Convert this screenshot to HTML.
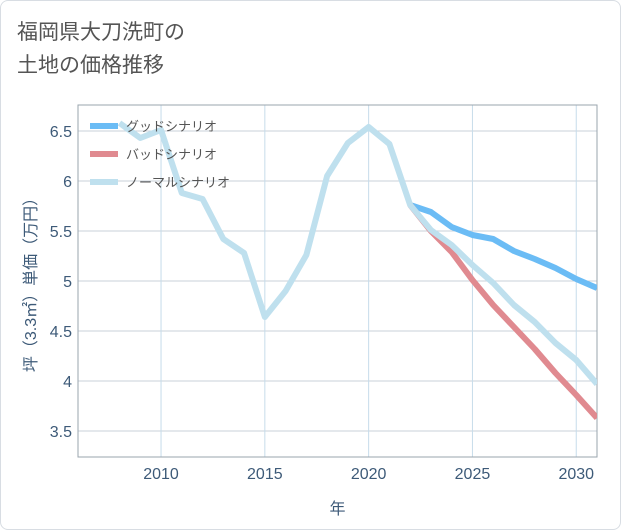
<!DOCTYPE html>
<html><head><meta charset="utf-8"><style>
body{margin:0;background:#fff;font-family:"Liberation Sans","Noto Sans CJK JP",sans-serif;}
#card{position:absolute;left:0;top:0;width:619px;height:528px;border:1px solid #d8dde3;border-radius:8px;background:#fff;}
#title{position:absolute;left:17px;top:16px;font-size:21px;line-height:33px;color:#555;}
</style></head><body>
<div id="card"></div>
<div id="title">福岡県大刀洗町の<br>土地の価格推移</div>
<svg id="chart" width="621" height="530" style="position:absolute;left:0;top:0"></svg>
<script>
const years=[2008,2009,2010,2011,2012,2013,2014,2015,2016,2017,2018,2019,2020,2021,2022,2023,2024,2025,2026,2027,2028,2029,2030,2031];
const normal=[6.58,6.43,6.51,5.88,5.82,5.42,5.28,4.64,4.90,5.26,6.05,6.38,6.54,6.37,5.76,5.51,5.36,5.16,4.98,4.76,4.59,4.38,4.21,3.97];
const goodYears=[2022,2023,2024,2025,2026,2027,2028,2029,2030,2031];
const good=[5.76,5.69,5.54,5.46,5.42,5.30,5.22,5.13,5.02,4.93];
const bad=[5.76,5.50,5.29,5.01,4.76,4.54,4.32,4.08,3.86,3.63];
const xTicks=[2010,2015,2020,2025,2030];
const yTicks=[3.5,4,4.5,5,5.5,6,6.5];
const L=78,R=597,T=105,B=457,X0=2006,X1=2031,Y0=3.24,Y1=6.76;
const xs=v=>L+(v-X0)/(X1-X0)*(R-L);
const ys=v=>B-(v-Y0)/(Y1-Y0)*(B-T);
const svg=document.getElementById('chart');const NS='http://www.w3.org/2000/svg';
function mk(t,a){const e=document.createElementNS(NS,t);for(const k in a)e.setAttribute(k,a[k]);svg.appendChild(e);return e;}
const clip=mk('clipPath',{id:'c'});const cr=document.createElementNS(NS,'rect');cr.setAttribute('x',L);cr.setAttribute('y',T);cr.setAttribute('width',R-L);cr.setAttribute('height',B-T);clip.appendChild(cr);
for(const v of yTicks){const g=mk('line',{x1:L,x2:R,y1:ys(v),y2:ys(v),stroke:'#c8d0da','stroke-width':1});


const t=mk('text',{x:L-6,y:ys(v)+6,'text-anchor':'end','font-size':16,fill:'#3d5a78'});t.textContent=v;

}
for(const v of xTicks){const g=mk('line',{x1:xs(v),x2:xs(v),y1:T,y2:B,stroke:'#c6dcea','stroke-width':1});


const t=mk('text',{x:xs(v),y:B+22,'text-anchor':'middle','font-size':16,fill:'#3d5a78'});t.textContent=v;

}
const fr=mk('rect',{x:L,y:T,width:R-L,height:B-T,fill:'none',stroke:'#9aa4ae','stroke-width':1});


function line(xv,yv,col,name){const p=mk('polyline',{points:xv.map((x,i)=>xs(x)+','+ys(yv[i])).join(' '),fill:'none',stroke:col,'stroke-width':6,'stroke-linejoin':'round','clip-path':'url(#c)'});

}
line(goodYears,good,'#6bbcf5','good-scenario-line');
line(goodYears,bad,'#e08a90','bad-scenario-line');
line(years,normal,'#bfe0ee','normal-scenario-line');
const leg=[['グッドシナリオ','#6bbcf5'],['バッドシナリオ','#e08a90'],['ノーマルシナリオ','#bfe0ee']];
leg.forEach((d,i)=>{const y=126+i*28;
const l=mk('line',{x1:90,x2:118,y1:y,y2:y,stroke:d[1],'stroke-width':6});


const t=mk('text',{x:126,y:y+5,'font-size':13,fill:'#555'});t.textContent=d[0];

});
const xl=mk('text',{x:(L+R)/2,y:514,'text-anchor':'middle','font-size':16,fill:'#3d5a78'});xl.textContent='年';


const yl=mk('text',{x:0,y:0,transform:'translate(36,'+((T+B)/2)+') rotate(-90)','text-anchor':'middle','font-size':16,fill:'#3d5a78'});yl.textContent='坪（3.3㎡）単価（万円）';


</script>
</body></html>
